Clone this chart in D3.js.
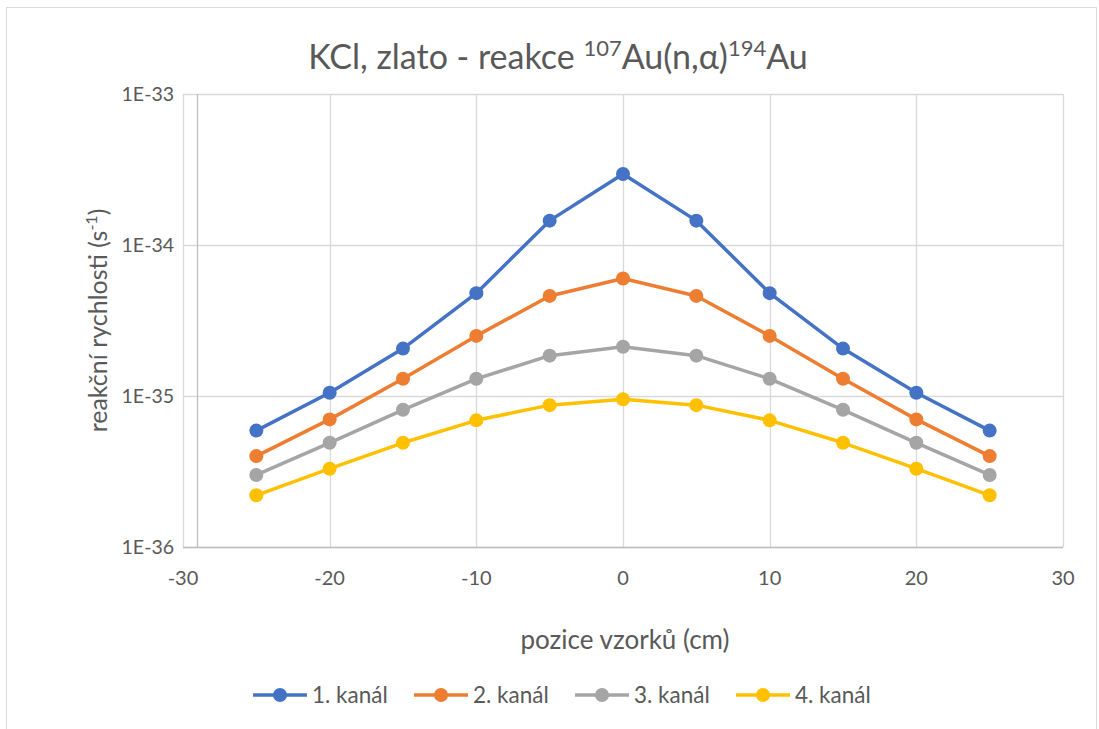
<!DOCTYPE html>
<html>
<head>
<meta charset="utf-8">
<script src="https://cdn.jsdelivr.net/npm/d3@7"></script>
<style>
  body { margin: 0; background: #fff; }
  text { font-family: Lato, "Open Sans", sans-serif; fill: #595959; }
</style>
</head>
<body>
<div id="chart"></div>
<script>
var width = 1099;
var height = 729;

var positions = [-25, -20, -15, -10, -5, 0, 5, 10, 15, 20, 25];
var kanal1 = [5.9e-36, 1.05e-35, 2.06e-35, 4.8e-35, 1.45e-34, 2.95e-34, 1.45e-34, 4.8e-35, 2.06e-35, 1.05e-35, 5.9e-36];
var kanal2 = [4.0e-36, 7.0e-36, 1.3e-35, 2.5e-35, 4.6e-35, 6.0e-35, 4.6e-35, 2.5e-35, 1.3e-35, 7.0e-36, 4.0e-36];
var kanal3 = [3.0e-36, 4.9e-36, 8.1e-36, 1.3e-35, 1.85e-35, 2.12e-35, 1.85e-35, 1.3e-35, 8.1e-36, 4.9e-36, 3.0e-36];
var kanal4 = [2.2e-36, 3.3e-36, 4.9e-36, 6.9e-36, 8.7e-36, 9.5e-36, 8.7e-36, 6.9e-36, 4.9e-36, 3.3e-36, 2.2e-36];

var seriesNames = ['1. kanál', '2. kanál', '3. kanál', '4. kanál'];
var seriesColors = ['#4472c4', '#ed7d31', '#a5a5a5', '#ffc000'];
var xTicks = [-30, -20, -10, 0, 10, 20, 30];
var yTicks = [1e-36, 1e-35, 1e-34, 1e-33];
var yTickLabels = ['1E-36', '1E-35', '1E-34', '1E-33'];

var plot = { left: 183, right: 1063, top: 94, bottom: 547 };

var series = [kanal1, kanal2, kanal3, kanal4].map(function (vals, i) {
  return {
    name: seriesNames[i],
    color: seriesColors[i],
    points: positions.map(function (p, j) { return { x: p, y: vals[j] }; })
  };
});

var svg = d3.select('#chart').append('svg')
  .attr('width', width)
  .attr('height', height);

// chart border
svg.append('rect')
  .attr('x', 6.5).attr('y', 7.5)
  .attr('width', 1090).attr('height', 740)
  .attr('fill', '#fff')
  .attr('stroke', '#d9d9d9');

var x = d3.scaleLinear().domain([-30, 30]).range([plot.left, plot.right]);
var y = d3.scaleLog().domain([1e-36, 1e-33]).range([plot.bottom, plot.top]);

// gridlines
svg.append('g')
  .selectAll('line.hgrid')
  .data(yTicks)
  .enter().append('line')
    .attr('x1', plot.left).attr('x2', plot.right)
    .attr('y1', function (d) { return Math.round(y(d)) + 0.5; })
    .attr('y2', function (d) { return Math.round(y(d)) + 0.5; })
    .attr('stroke', '#d9d9d9').attr('stroke-width', 1.3);

svg.append('g')
  .selectAll('line.vgrid')
  .data(xTicks)
  .enter().append('line')
    .attr('x1', function (d) { return Math.round(x(d)) + 0.5; })
    .attr('x2', function (d) { return Math.round(x(d)) + 0.5; })
    .attr('y1', plot.top).attr('y2', plot.bottom)
    .attr('stroke', '#d9d9d9').attr('stroke-width', 1.3);

// vertical axis line (crosses slightly right of -30)
svg.append('line')
  .attr('x1', Math.round(x(-29.05)) + 0.5).attr('x2', Math.round(x(-29.05)) + 0.5)
  .attr('y1', plot.top).attr('y2', plot.bottom)
  .attr('stroke', '#bfbfbf').attr('stroke-width', 1.3);

// horizontal axis line
svg.append('line')
  .attr('x1', plot.left).attr('x2', plot.right)
  .attr('y1', Math.round(y(1e-36)) + 0.5).attr('y2', Math.round(y(1e-36)) + 0.5)
  .attr('stroke', '#bfbfbf').attr('stroke-width', 1.3);

// tick labels
svg.append('g')
  .selectAll('text')
  .data(yTicks)
  .enter().append('text')
    .attr('x', 174)
    .attr('y', function (d) { return y(d) + 7; })
    .attr('text-anchor', 'end')
    .attr('font-size', 19.5)
    .text(function (d, i) { return yTickLabels[i]; });

svg.append('g')
  .selectAll('text')
  .data(xTicks)
  .enter().append('text')
    .attr('x', function (d) { return x(d); })
    .attr('y', 585)
    .attr('text-anchor', 'middle')
    .attr('font-size', 20)
    .text(function (d) { return d; });

// series
var line = d3.line()
  .x(function (d) { return x(d.x); })
  .y(function (d) { return y(d.y); });

var groups = svg.append('g')
  .selectAll('g.series')
  .data(series)
  .enter().append('g')
    .attr('class', 'series');

groups.append('path')
  .attr('fill', 'none')
  .attr('stroke', function (d) { return d.color; })
  .attr('stroke-width', 3.5)
  .attr('stroke-linejoin', 'round')
  .attr('d', function (d) { return line(d.points); });

groups.selectAll('circle')
  .data(function (d) { return d.points.map(function (p) { return { p: p, color: d.color }; }); })
  .enter().append('circle')
    .attr('cx', function (d) { return x(d.p.x); })
    .attr('cy', function (d) { return y(d.p.y); })
    .attr('r', 7)
    .attr('fill', function (d) { return d.color; });

// title
var title = svg.append('text')
  .attr('x', 558)
  .attr('y', 69)
  .attr('text-anchor', 'middle')
  .attr('font-size', 34);
title.append('tspan').text('KCl, zlato - reakce ');
title.append('tspan').attr('font-size', 22).attr('dy', -13).text('107');
title.append('tspan').attr('dy', 13).text('Au(n,α)');
title.append('tspan').attr('font-size', 22).attr('dy', -13).text('194');
title.append('tspan').attr('dy', 13).text('Au');

// axis titles
var yTitle = svg.append('text')
  .attr('transform', 'translate(107,' + ((plot.top + plot.bottom) / 2) + ') rotate(-90)')
  .attr('text-anchor', 'middle')
  .attr('font-size', 25);
yTitle.append('tspan').text('reakční rychlosti (s');
yTitle.append('tspan').attr('font-size', 16).attr('dy', -10).text('-1');
yTitle.append('tspan').attr('dy', 10).text(')');

svg.append('text')
  .attr('x', 625)
  .attr('y', 649)
  .attr('text-anchor', 'middle')
  .attr('font-size', 26)
  .text('pozice vzorků (cm)');

// legend
var legendX = [253, 414, 575, 736];
var legend = svg.append('g')
  .selectAll('g.legend')
  .data(series)
  .enter().append('g')
    .attr('transform', function (d, i) { return 'translate(' + legendX[i] + ',695)'; });

legend.append('line')
  .attr('x1', 0).attr('x2', 54)
  .attr('stroke', function (d) { return d.color; })
  .attr('stroke-width', 3.5);

legend.append('circle')
  .attr('cx', 27).attr('r', 7)
  .attr('fill', function (d) { return d.color; });

legend.append('text')
  .attr('x', 59)
  .attr('y', 8)
  .attr('font-size', 22.5)
  .text(function (d) { return d.name; });
</script>
</body>
</html>
